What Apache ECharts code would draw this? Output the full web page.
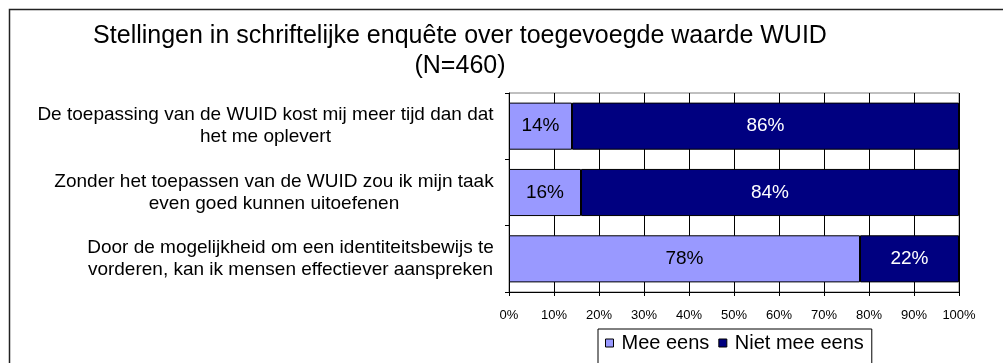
<!DOCTYPE html>
<html>
<head>
<meta charset="utf-8">
<script src="https://cdn.jsdelivr.net/npm/echarts@6/dist/echarts.min.js"></script>
<style>
  html, body { margin: 0; padding: 0; background: #fff; }
  #chart { width: 1003px; height: 363px; }
</style>
</head>
<body>
<div id="chart"></div>
<script>
// Statements (top to bottom) and the share of respondents per answer
const categories = [
  'De toepassing van de WUID kost mij meer tijd dan dat\nhet me oplevert',
  'Zonder het toepassen van de WUID zou ik mijn taak\neven goed kunnen uitoefenen',
  'Door de mogelijkheid om een identiteitsbewijs te\nvorderen, kan ik mensen effectiever aanspreken'
];
const meeEens = [14, 16, 78];
const nietMeeEens = [86, 84, 22];
const seriesNames = ['Mee eens', 'Niet mee eens'];
const titleText = 'Stellingen in schriftelijke enquête over toegevoegde waarde WUID\n(N=460)';

const FONT = "'Liberation Sans', Arial, sans-serif";
const LABEL_SIZE = 19;

// Width of the widest line of each statement, so every label block is
// right-aligned against the axis while its lines stay centred.
const ctx = document.createElement('canvas').getContext('2d');
ctx.font = LABEL_SIZE + 'px ' + FONT;
const rich = {};
categories.forEach((c, i) => {
  const w = Math.max(...c.split('\n').map(l => ctx.measureText(l).width));
  rich['c' + i] = {
    width: Math.ceil(w) + 2, align: 'center',
    fontSize: LABEL_SIZE, fontFamily: FONT, color: '#000', lineHeight: 22
  };
});

const chart = echarts.init(document.getElementById('chart'), null, { renderer: 'canvas' });

const barLabel = (color) => ({
  show: true, position: 'inside', formatter: '{c}%',
  fontSize: 19, fontFamily: FONT, color: color
});

chart.setOption({
  animation: false,
  backgroundColor: '#fff',
  textStyle: { fontFamily: FONT },
  graphic: [{
    type: 'rect', z: -10, silent: true,
    shape: { x: 9.5, y: 9.5, width: 1100, height: 500 },
    style: { fill: 'none', stroke: '#222', lineWidth: 1.5 }
  }],
  title: {
    text: titleText,
    left: 455, top: 16,
    textAlign: 'center',
    textStyle: { fontSize: 25, fontWeight: 'normal', color: '#000', fontFamily: FONT, lineHeight: 30 }
  },
  legend: {
    data: seriesNames,
    left: 598, top: 329,
    orient: 'horizontal',
    icon: 'rect',
    itemWidth: 8, itemHeight: 8, itemGap: 9,
    borderColor: '#000', borderWidth: 1,
    padding: [4, 8, 30, 7],
    textStyle: { fontSize: 20, color: '#000', fontFamily: FONT, padding: [0, 0, 0, 3] },
    itemStyle: { borderColor: '#000', borderWidth: 1 }
  },
  grid: { left: 509, right: 44, top: 93, bottom: 71, show: true, borderColor: '#808080', borderWidth: 1 },
  xAxis: {
    type: 'value', min: 0, max: 100, interval: 10,
    axisLine: { show: true, lineStyle: { color: '#000' } },
    axisTick: { show: true, length: 4, lineStyle: { color: '#000' } },
    splitLine: { show: true, lineStyle: { color: '#000', width: 1 } },
    axisLabel: { formatter: '{value}%', fontSize: 13, color: '#000', fontFamily: FONT, margin: 17 }
  },
  yAxis: {
    type: 'category', inverse: true,
    data: categories,
    axisLine: { show: true, lineStyle: { color: '#000' } },
    axisTick: { show: true, length: 4, lineStyle: { color: '#000' } },
    axisLabel: {
      margin: 14,
      formatter: (v, i) => v.split('\n').map(l => '{c' + i + '|' + l + '}').join('\n'),
      rich: rich
    }
  },
  series: [
    {
      name: seriesNames[0], type: 'bar', stack: 'total', barWidth: '71%',
      data: meeEens,
      itemStyle: { color: '#9999ff', borderColor: '#000', borderWidth: 1 },
      label: barLabel('#000')
    },
    {
      name: seriesNames[1], type: 'bar', stack: 'total', barWidth: '71%',
      data: nietMeeEens,
      itemStyle: { color: '#000080', borderColor: '#000', borderWidth: 1 },
      label: barLabel('#fff')
    }
  ]
});
</script>
</body>
</html>
